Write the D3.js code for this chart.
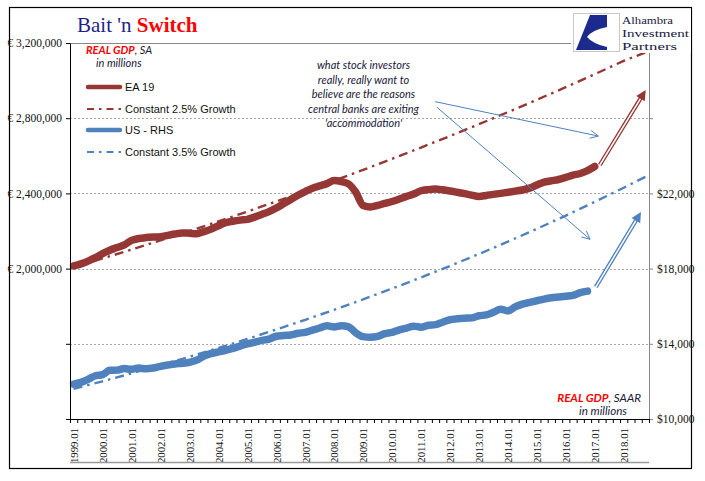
<!DOCTYPE html>
<html><head><meta charset="utf-8">
<script src="https://cdn.jsdelivr.net/npm/d3@7"></script>
<style>body{margin:0;background:#fff}svg{display:block}</style>
</head><body><svg id="c" width="705" height="481"></svg>
<script>
// ---------- DATA ----------
const years = [1999,2000,2001,2002,2003,2004,2005,2006,2007,2008,2009,2010,2011,2012,2013,2014,2015,2016,2017,2018];
const quarterSuffixes = ["01","04","07","10"];
const categories = years.flatMap(y => quarterSuffixes.map(q => y + "." + q));
const yearLabels = years.map(y => y + ".01");

// Euro area (EA19) real GDP, SA, EUR millions, quarterly from 1999.01
const ea19 = [2014000,2025000,2040000,2058000,2080000,2098000,2112000,2126000,2150000,2160000,
  2165000,2168000,2170000,2177000,2184000,2190000,2188000,2186000,2197000,2210000,
  2228000,2244000,2252000,2258000,2262000,2274000,2288000,2303000,2322000,2345000,
  2368000,2390000,2410000,2428000,2440000,2452000,2468000,2463000,2450000,2405000,
  2336000,2328000,2336000,2347000,2357000,2370000,2384000,2397000,2414000,2420000,
  2423000,2419000,2413000,2406000,2399000,2391000,2384000,2389000,2395000,2400000,
  2406000,2412000,2418000,2428000,2445000,2460000,2467000,2474000,2485000,2497000,
  2506000,2521000,2543000];

// US real GDP, SAAR, USD (right axis), quarterly from 1999.01
const us = [11850,11950,12110,12300, 12360,12590,12600,12680, 12640,12710,12670,12710,
  12800,12870,12930,12960, 13010,13130,13350,13480, 13570,13650,13760,13880,
  14000,14080,14180,14250, 14400,14440,14470,14560, 14610,14730,14840,14960,
  14900,14960,14900,14580, 14380,14350,14400,14540, 14610,14740,14840,14940,
  14880,14990,15020,15150, 15280,15330,15360,15380, 15490,15540,15680,15840,
  15750,15960,16110,16200, 16290,16380,16450,16490, 16530,16580,16720,16800];

// Trend lines read at each year's .01 quarter plus the last quarter
const trendCats = yearLabels.concat(["2018.10"]);
const trendEA = [2007000,2054000,2101000,2150000,2200000,2251000,2303000,2357000,2412000,2468000,
  2525000,2584000,2644000,2705000,2768000,2832000,2898000,2965000,3034000,3105000,3150000];
const trendUS = [11600,12006,12426,12861,13311,13777,14259,14758,15275,15810,
  16363,16936,17529,18142,18777,19434,20114,20818,21547,22301,22877];

const leftTicks = [1200000,1600000,2000000,2400000,2800000,3200000];
const leftLabels = ["","","€ 2,000,000","€ 2,400,000","€ 2,800,000","€ 3,200,000"];
const rightTicks = [10000,14000,18000,22000,26000,30000];
const rightLabels = ["$10,000","$14,000","$18,000","$22,000","",""];

// annotation arrows: [category position, value]
const redArrow = [[73.2, 2551000],[79.55, 2950000]];          // left axis
const blueArrow = [[72.65, 17020],[78.9, 21010]];            // right axis
const noteArrowA = [[50.45, 2888000],[73.0, 2705000]];       // left axis
const noteArrowB = [[50.7, 2858000],[71.85, 2156000]];       // left axis
const noteLines = ["what stock investors","really, really want to","believe are the reasons","central banks are exiting","'accommodation'"];
const logoLines = ["Alhambra","Investment","Partners"];

// ---------- CHART ----------
const RED = "#953735", BLUE = "#4F81BD";
const svg = d3.select("#c");
svg.append("rect").attr("width",705).attr("height",481).attr("fill","#fff");

const L = 70, R = 649, T = 43, B = 419;
const xPos = d3.scaleLinear().domain([0, categories.length]).range([L, R]);
const cx = c => xPos(categories.indexOf(c) + 0.5);
const yL = d3.scaleLinear().domain([1200000, 3200000]).range([B, T]);
const yR = d3.scaleLinear().domain([10000, 30000]).range([B, T]);

// outer border
svg.append("rect").attr("x",9.5).attr("y",7.5).attr("width",682).attr("height",461)
  .attr("fill","none").attr("stroke","#000").attr("stroke-width",1.2);

// gridlines
svg.append("g").selectAll("line").data(leftTicks.slice(1,5)).join("line")
  .attr("x1",L).attr("x2",R).attr("y1",d=>Math.round(yL(d))+0.5).attr("y2",d=>Math.round(yL(d))+0.5)
  .attr("stroke","#a8a8a8").attr("stroke-dasharray","2,2");
svg.append("line").attr("x1",L).attr("x2",R).attr("y1",T+0.5).attr("y2",T+0.5).attr("stroke","#888");

// trend lines
const dashDot = "9,5,2.5,5";
svg.append("path").datum(trendEA)
  .attr("d", d3.line().x((d,i)=>cx(trendCats[i])).y(d=>yL(d)))
  .attr("fill","none").attr("stroke",RED).attr("stroke-width",2.4).attr("stroke-dasharray",dashDot);
svg.append("path").datum(trendUS)
  .attr("d", d3.line().x((d,i)=>cx(trendCats[i])).y(d=>yR(d)))
  .attr("fill","none").attr("stroke",BLUE).attr("stroke-width",2.4).attr("stroke-dasharray",dashDot);

// main series
svg.append("path").datum(us)
  .attr("d", d3.line().x((d,i)=>cx(categories[i])).y(d=>yR(d)).curve(d3.curveMonotoneX))
  .attr("fill","none").attr("stroke",BLUE).attr("stroke-width",7.5)
  .attr("stroke-linecap","round").attr("stroke-linejoin","round");
svg.append("path").datum(ea19)
  .attr("d", d3.line().x((d,i)=>cx(categories[i])).y(d=>yL(d)).curve(d3.curveMonotoneX))
  .attr("fill","none").attr("stroke",RED).attr("stroke-width",7.5)
  .attr("stroke-linecap","round").attr("stroke-linejoin","round");

// double-line arrows
function doubleArrow(pts, ys, color){
  const x1 = xPos(pts[0][0]), y1 = ys(pts[0][1]), x2 = xPos(pts[1][0]), y2 = ys(pts[1][1]);
  const dx = x2-x1, dy = y2-y1, len = Math.hypot(dx,dy), ux = dx/len, uy = dy/len;
  const hl = 10, hw = 5;
  const sx = x2 - ux*hl, sy = y2 - uy*hl;
  svg.append("line").attr("x1",x1).attr("y1",y1).attr("x2",sx+ux*1).attr("y2",sy+uy*1)
    .attr("stroke",color).attr("stroke-width",4.2);
  svg.append("line").attr("x1",x1).attr("y1",y1).attr("x2",sx).attr("y2",sy)
    .attr("stroke","#fff").attr("stroke-width",1.5);
  svg.append("path").attr("d",`M${x2},${y2}L${sx - uy*hw},${sy + ux*hw}L${sx + uy*hw},${sy - ux*hw}Z`)
    .attr("fill",color);
}
doubleArrow(redArrow, yL, RED);
doubleArrow(blueArrow, yR, BLUE);

// thin annotation arrows
function thinArrow(pts){
  const x1 = xPos(pts[0][0]), y1 = yL(pts[0][1]), x2 = xPos(pts[1][0]), y2 = yL(pts[1][1]);
  const a = Math.atan2(y2-y1, x2-x1), hl = 9, ha = 0.45;
  svg.append("line").attr("x1",x1).attr("y1",y1).attr("x2",x2).attr("y2",y2)
    .attr("stroke",BLUE).attr("stroke-width",1);
  svg.append("path").attr("d",`M${x2-hl*Math.cos(a-ha)},${y2-hl*Math.sin(a-ha)}L${x2},${y2}L${x2-hl*Math.cos(a+ha)},${y2-hl*Math.sin(a+ha)}`)
    .attr("fill","none").attr("stroke",BLUE).attr("stroke-width",1);
}
thinArrow(noteArrowA);
thinArrow(noteArrowB);

// axes
const serif = "'Liberation Serif', 'Times New Roman', serif";
const gL = svg.append("g").attr("transform",`translate(${L},0)`)
  .call(d3.axisLeft(yL).tickValues(leftTicks).tickSize(4).tickSizeOuter(0).tickPadding(4)
    .tickFormat((d,i)=>leftLabels[i]));
gL.selectAll("text").attr("font-family",serif).attr("font-size","11.5px").attr("fill","#111");
gL.selectAll("line,path").attr("stroke","#000");

const gR = svg.append("g").attr("transform",`translate(${R},0)`)
  .call(d3.axisRight(yR).tickValues(rightTicks).tickSize(4).tickSizeOuter(0).tickPadding(4)
    .tickFormat((d,i)=>rightLabels[i]));
gR.selectAll("text").attr("font-family",serif).attr("font-size","11.5px").attr("fill","#111");
gR.selectAll("line,path").attr("stroke","#888");

const gB = svg.append("g").attr("transform",`translate(0,${B})`)
  .call(d3.axisBottom(xPos).tickValues(d3.range(0, categories.length+1)).tickSize(4).tickSizeOuter(0).tickFormat(""));
gB.selectAll("line,path").attr("stroke","#000");

svg.append("g").selectAll("text").data(yearLabels).join("text")
  .attr("transform", d => `translate(${cx(d)+0.5},428) rotate(-90)`)
  .attr("text-anchor","end").attr("dy","0.35em")
  .attr("font-family",serif).attr("font-size","10.8px").attr("fill","#111").text(d=>d);
svg.append("line").attr("x1",L).attr("x2",R).attr("y1",462.5).attr("y2",462.5).attr("stroke","#999").attr("stroke-width",1.3);

// title
const title = svg.append("text").attr("x",77).attr("y",32).attr("font-family",serif).attr("font-size","21px");
title.append("tspan").attr("fill","#1F1F8A").text("Bait 'n ");
title.append("tspan").attr("fill","#FF0000").attr("font-weight","bold").text("Switch");

// legend
const sans = "'Liberation Sans', Arial, sans-serif";
const italicFont = "Lato, 'Open Sans', sans-serif";
const lt = svg.append("text").attr("x",86).attr("y",54).attr("font-family",italicFont).attr("font-style","italic").attr("font-size","11px");
lt.append("tspan").attr("fill","#FF0000").attr("font-weight","bold").text("REAL GDP");
lt.append("tspan").attr("fill","#1a1a3a").text(", SA");
svg.append("text").attr("x",96).attr("y",67).attr("font-family",italicFont).attr("font-style","italic")
  .attr("font-size","11px").attr("fill","#1a1a3a").text("in millions");

const legend = [
  {label:"EA 19", color:RED, thick:true, y:87},
  {label:"Constant 2.5% Growth", color:RED, thick:false, y:109},
  {label:"US - RHS", color:BLUE, thick:true, y:130},
  {label:"Constant 3.5% Growth", color:BLUE, thick:false, y:152}
];
legend.forEach(d=>{
  if(d.thick){
    svg.append("line").attr("x1",88).attr("x2",120).attr("y1",d.y).attr("y2",d.y)
      .attr("stroke",d.color).attr("stroke-width",4.5).attr("stroke-linecap","round");
  } else {
    svg.append("line").attr("x1",87).attr("x2",121).attr("y1",d.y).attr("y2",d.y)
      .attr("stroke",d.color).attr("stroke-width",2.2).attr("stroke-dasharray","7,5,2.5,5");
  }
  svg.append("text").attr("x",125).attr("y",d.y+4).attr("font-family",sans).attr("font-size","11px")
    .attr("fill","#111").text(d.label);
});

// note text
svg.append("g").selectAll("text").data(noteLines).join("text")
  .attr("x",363.5).attr("y",(d,i)=>69+i*14.6).attr("text-anchor","middle")
  .attr("font-family",italicFont).attr("font-style","italic").attr("font-size","11px").attr("fill","#1a1a3a")
  .text(d=>d);

// bottom-right label
const br = svg.append("text").attr("x",641).attr("y",402).attr("text-anchor","end")
  .attr("font-family",italicFont).attr("font-style","italic").attr("font-size","11.6px");
br.append("tspan").attr("fill","#FF0000").attr("font-weight","bold").text("REAL GDP");
br.append("tspan").attr("fill","#1a1a3a").text(", SAAR");
svg.append("text").attr("x",627).attr("y",415).attr("text-anchor","end")
  .attr("font-family",italicFont).attr("font-style","italic").attr("font-size","11.6px").attr("fill","#1a1a3a").text("in millions");

// logo
svg.append("rect").attr("x",571).attr("y",9).attr("width",120).attr("height",44).attr("fill","#fff");
svg.append("rect").attr("x",573.5).attr("y",13.5).attr("width",46).attr("height",38)
  .attr("fill","#fff").attr("stroke","#c8c8c8");
svg.append("path").attr("d","M590,15 L607,15 L607,27 Q592,30 587,37 Q593,44 607,47 L607,50 L576,50 Z")
  .attr("fill","#1B2A8C");
const logoWidths = [51, 67, 55];
logoLines.forEach((t,i)=>{
  svg.append("text").attr("x",622).attr("y",24.2+i*12.7)
    .attr("font-family","'Liberation Serif', serif").attr("font-size","11px").attr("fill","#1a1a40")
    .attr("textLength",logoWidths[i]).attr("lengthAdjust","spacingAndGlyphs").text(t);
});
</script></body></html>
